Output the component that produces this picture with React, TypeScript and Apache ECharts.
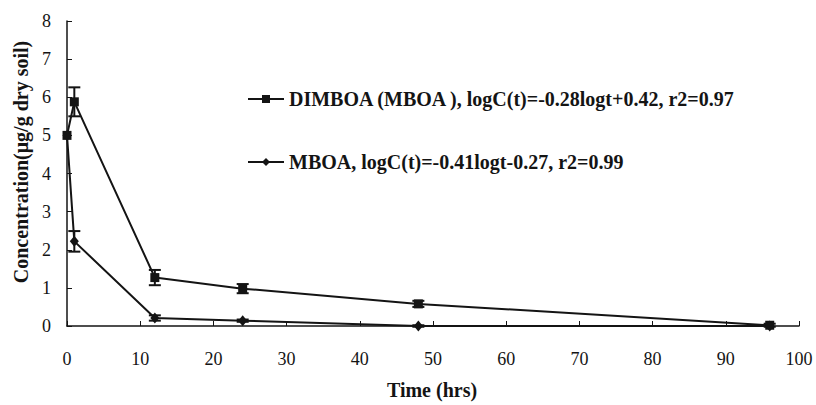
import React, { useEffect, useRef } from "react";
import * as echarts from "echarts";

const times = [0, 1, 12, 24, 48, 96];
const dimboaValues = [5.0, 5.88, 1.27, 0.98, 0.58, 0.02];
const dimboaErrors = [0, 0.38, 0.2, 0.12, 0.08, 0.04];
const mboaValues = [5.0, 2.22, 0.21, 0.14, 0.0, 0.0];
const mboaErrors = [0, 0.27, 0.07, 0.03, 0.02, 0.0];
const dimboaName = "DIMBOA (MBOA ), logC(t)=-0.28logt+0.42, r2=0.97";
const mboaName = "MBOA, logC(t)=-0.41logt-0.27, r2=0.99";
const xTitle = "Time (hrs)";
const yTitle = "Concentration(μg/g dry soil)";

const INK = "#141414";
const FONT = "Liberation Serif";

function errData(vals: number[], errs: number[]) {
  return times
    .map((t, i) => [t, vals[i] - errs[i], vals[i] + errs[i]])
    .filter((_, i) => errs[i] > 0);
}

function errorSeries(vals: number[], errs: number[]) {
  return {
    type: "custom",
    silent: true,
    data: errData(vals, errs),
    z: 3,
    renderItem: (params: any, api: any) => {
      const x = api.value(0);
      const lo = api.coord([x, api.value(1)]);
      const hi = api.coord([x, api.value(2)]);
      const w = 6;
      const style = { stroke: INK, lineWidth: 2 };
      return {
        type: "group",
        children: [
          { type: "line", shape: { x1: lo[0], y1: lo[1], x2: hi[0], y2: hi[1] }, style },
          { type: "line", shape: { x1: lo[0] - w, y1: lo[1], x2: lo[0] + w, y2: lo[1] }, style },
          { type: "line", shape: { x1: hi[0] - w, y1: hi[1], x2: hi[0] + w, y2: hi[1] }, style },
        ],
      };
    },
  };
}

export default function App() {
  const ref = useRef<HTMLDivElement>(null);
  useEffect(() => {
    if (!ref.current) return;
    const chart = echarts.init(ref.current, null, { renderer: "svg" });
    chart.setOption({
      animation: false,
      backgroundColor: "#ffffff",
      grid: { left: 67, right: 17, top: 21, bottom: 79 },
      legend: {
        orient: "vertical",
        left: 242,
        top: 83,
        itemGap: 41,
        itemWidth: 36,
        itemHeight: 10,
        textStyle: { fontFamily: FONT, fontWeight: "bold", fontSize: 20, lineHeight: 22, color: INK },
        data: [dimboaName, mboaName],
      },
      graphic: [
        {
          type: "text",
          x: 21,
          y: 162,
          rotation: Math.PI / 2,
          style: {
            text: yTitle,
            fontFamily: FONT,
            fontWeight: "bold",
            fontSize: 20,
            fill: INK,
            align: "center",
            verticalAlign: "middle",
          },
        },
        {
          type: "text",
          x: 432,
          y: 390,
          style: {
            text: xTitle,
            fontFamily: FONT,
            fontWeight: "bold",
            fontSize: 20,
            fill: INK,
            align: "center",
            verticalAlign: "middle",
          },
        },
      ],
      xAxis: {
        type: "value",
        min: 0,
        max: 100,
        interval: 10,
        axisLine: { lineStyle: { color: INK, width: 1.5 } },
        axisTick: { inside: true, length: 5, lineStyle: { color: INK } },
        axisLabel: { fontFamily: FONT, fontSize: 18, color: INK, margin: 24 },
        splitLine: { show: false },
      },
      yAxis: {
        type: "value",
        min: 0,
        max: 8,
        interval: 1,
        axisLine: { show: true, lineStyle: { color: INK, width: 1.5 } },
        axisTick: { show: true, inside: true, length: 5, lineStyle: { color: INK } },
        axisLabel: { fontFamily: FONT, fontSize: 18, color: INK, margin: 16 },
        splitLine: { show: false },
      },
      series: [
        {
          name: dimboaName,
          type: "line",
          data: times.map((t, i) => [t, dimboaValues[i]]),
          symbol: "rect",
          symbolSize: 9,
          lineStyle: { color: INK, width: 2 },
          itemStyle: { color: INK },
          z: 4,
        },
        {
          name: mboaName,
          type: "line",
          data: times.map((t, i) => [t, mboaValues[i]]),
          symbol: "diamond",
          symbolSize: [9, 11],
          lineStyle: { color: INK, width: 2 },
          itemStyle: { color: INK },
          z: 4,
        },
        errorSeries(dimboaValues, dimboaErrors),
        errorSeries(mboaValues, mboaErrors),
      ],
    });
    return () => chart.dispose();
  }, []);
  return (
    <div
      ref={ref}
      style={{ position: "absolute", left: 0, top: 0, width: 816, height: 405, background: "#fff" }}
    />
  );
}
